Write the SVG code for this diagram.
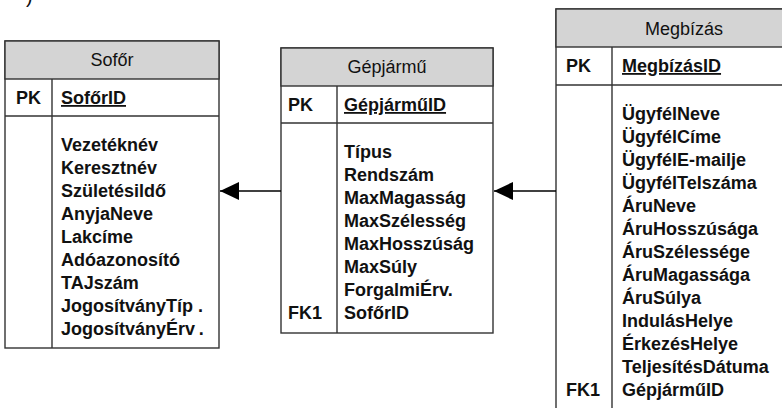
<svg xmlns="http://www.w3.org/2000/svg" width="782" height="408" viewBox="0 0 782 408">
<defs>
<style>
text{font-family:"Liberation Sans",Arial,sans-serif;fill:#111;}
.box{fill:#fff;stroke:#333;stroke-width:1.4;}
.hdr{fill:#d4d4d4;stroke:#333;stroke-width:1.4;}
.ln{stroke:#333;stroke-width:1.4;fill:none;}
.title{font-size:18px;text-anchor:middle;}
.b{font-size:18px;font-weight:bold;}
.pk{font-size:18px;font-weight:bold;text-decoration:underline;}
.conn{stroke:#000;stroke-width:1.5;fill:none;}
</style>
<marker id="arr" markerWidth="19" markerHeight="18" refX="19" refY="9" orient="auto" markerUnits="userSpaceOnUse">
<path d="M0,0 L19,9 L0,18 Z" fill="#000"/>
</marker>
</defs>
<rect width="782" height="408" fill="#fff"/>
<text x="26" y="3" style="font-size:20px;">)</text>

<g id="sofor">
<rect class="box" x="5" y="41" width="214" height="307"/>
<rect class="hdr" x="5" y="41" width="214" height="38"/>
<line class="ln" x1="5" y1="116" x2="219" y2="116"/>
<line class="ln" x1="52" y1="79" x2="52" y2="348"/>
<text class="title" x="112" y="66">Sofőr</text>
<text class="b" x="16" y="104">PK</text>
<text class="pk" x="61" y="104">SofőrID</text>
<text class="b" x="61" y="151">Vezetéknév</text>
<text class="b" x="61" y="174">Keresztnév</text>
<text class="b" x="61" y="197">Születésildő</text>
<text class="b" x="61" y="220">AnyjaNeve</text>
<text class="b" x="61" y="243">Lakcíme</text>
<text class="b" x="61" y="266">Adóazonosító</text>
<text class="b" x="61" y="289">TAJszám</text>
<text class="b" x="61" y="312">JogosítványTíp<tspan dx="5">.</tspan></text>
<text class="b" x="61" y="335">JogosítványÉrv<tspan dx="5">.</tspan></text>
</g>

<g id="gepjarmu">
<rect class="box" x="281" y="48" width="212" height="285"/>
<rect class="hdr" x="281" y="48" width="212" height="38"/>
<line class="ln" x1="281" y1="123" x2="493" y2="123"/>
<line class="ln" x1="337" y1="86" x2="337" y2="333"/>
<text class="title" x="387" y="73">Gépjármű</text>
<text class="b" x="288" y="111">PK</text>
<text class="pk" x="344" y="111">GépjárműID</text>
<text class="b" x="344" y="158">Típus</text>
<text class="b" x="344" y="181">Rendszám</text>
<text class="b" x="344" y="204">MaxMagasság</text>
<text class="b" x="344" y="227">MaxSzélesség</text>
<text class="b" x="344" y="250">MaxHosszúság</text>
<text class="b" x="344" y="273">MaxSúly</text>
<text class="b" x="344" y="296">ForgalmiÉrv.</text>
<text class="b" x="288" y="319">FK1</text>
<text class="b" x="344" y="319">SofőrID</text>
</g>

<g id="megbizas">
<rect class="box" x="556" y="9" width="260" height="420"/>
<rect class="hdr" x="556" y="9" width="260" height="38"/>
<line class="ln" x1="556" y1="85" x2="816" y2="85"/>
<line class="ln" x1="612" y1="47" x2="612" y2="429"/>
<text class="title" x="684" y="35">Megbízás</text>
<text class="b" x="566" y="72">PK</text>
<text class="pk" x="622" y="72">MegbízásID</text>
<text class="b" x="622" y="120">ÜgyfélNeve</text>
<text class="b" x="622" y="143">ÜgyfélCíme</text>
<text class="b" x="622" y="166">ÜgyfélE-mailje</text>
<text class="b" x="622" y="189">ÜgyfélTelszáma</text>
<text class="b" x="622" y="212">ÁruNeve</text>
<text class="b" x="622" y="235">ÁruHosszúsága</text>
<text class="b" x="622" y="258">ÁruSzélessége</text>
<text class="b" x="622" y="281">ÁruMagassága</text>
<text class="b" x="622" y="304">ÁruSúlya</text>
<text class="b" x="622" y="327">IndulásHelye</text>
<text class="b" x="622" y="350">ÉrkezésHelye</text>
<text class="b" x="622" y="373">TeljesítésDátuma</text>
<text class="b" x="566" y="396">FK1</text>
<text class="b" x="622" y="396">GépjárműID</text>
</g>

<g id="connectors">
<line class="conn" x1="281" y1="191" x2="220" y2="191" marker-end="url(#arr)"/>
<line class="conn" x1="556" y1="191" x2="494" y2="191" marker-end="url(#arr)"/>
</g>
</svg>
